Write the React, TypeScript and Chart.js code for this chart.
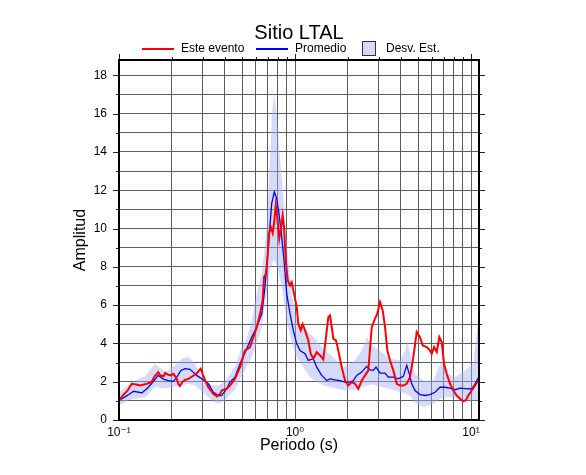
import React, { useEffect, useRef } from 'react';
import { Chart, registerables } from 'chart.js';

Chart.register(...registerables);

const FONT = "'Liberation Sans', Arial, Helvetica, 'DejaVu Sans', sans-serif";

// Este evento (red)
const redPeriods = [0.100, 0.105, 0.112, 0.118, 0.125, 0.132, 0.144, 0.153, 0.160, 0.164, 0.167, 0.172, 0.179, 0.183, 0.187, 0.195, 0.204, 0.213, 0.217, 0.222, 0.229, 0.237, 0.248, 0.259, 0.276, 0.291, 0.300, 0.308, 0.322, 0.343, 0.360, 0.375, 0.383, 0.409, 0.427, 0.456, 0.487, 0.520, 0.555, 0.580, 0.606, 0.633, 0.655, 0.667, 0.684, 0.696, 0.712, 0.728, 0.747, 0.760, 0.777, 0.793, 0.814, 0.840, 0.851, 0.866, 0.886, 0.909, 0.937, 0.958, 0.987, 1.023, 1.044, 1.078, 1.106, 1.140, 1.190, 1.228, 1.271, 1.328, 1.387, 1.448, 1.500, 1.546, 1.581, 1.617, 1.651, 1.710, 1.762, 1.842, 1.924, 2.008, 2.100, 2.192, 2.289, 2.393, 2.499, 2.609, 2.728, 2.848, 2.935, 3.041, 3.150, 3.247, 3.346, 3.466, 3.619, 3.783, 3.950, 4.124, 4.312, 4.502, 4.701, 4.915, 5.131, 5.317, 5.602, 5.848, 5.980, 6.163, 6.385, 6.606, 6.817, 7.026, 7.278, 7.599, 7.935, 8.293, 8.660, 9.042, 9.365, 9.652, 10.09, 10.54, 11.0];
const redAmps = [1.02, 1.27, 1.54, 1.89, 1.85, 1.80, 1.89, 1.98, 2.30, 2.41, 2.50, 2.32, 2.28, 2.46, 2.39, 2.33, 2.41, 2.15, 1.89, 1.78, 1.98, 2.09, 2.15, 2.26, 2.43, 2.68, 2.35, 2.09, 1.71, 1.37, 1.23, 1.35, 1.54, 1.63, 1.80, 2.15, 2.76, 3.63, 3.80, 4.33, 4.85, 5.55, 6.25, 7.46, 7.64, 8.34, 9.73, 10.08, 9.76, 10.25, 11.21, 10.6, 9.47, 10.25, 10.69, 10.08, 8.34, 7.29, 7.03, 7.2, 6.6, 5.90, 5.03, 4.68, 5.0, 4.68, 4.16, 3.46, 3.20, 3.54, 3.37, 3.16, 4.33, 5.37, 5.46, 4.85, 4.24, 4.16, 3.63, 2.76, 2.06, 1.80, 1.98, 1.89, 1.63, 2.06, 2.33, 2.59, 4.85, 5.29, 5.55, 6.16, 5.72, 4.85, 3.63, 3.11, 2.59, 1.89, 1.80, 1.80, 1.89, 2.24, 3.28, 4.59, 4.33, 3.89, 3.81, 3.63, 3.46, 3.81, 3.55, 4.33, 4.07, 2.94, 2.41, 1.89, 1.54, 1.28, 1.11, 0.98, 1.04, 1.28, 1.54, 1.80, 2.06];

// Promedio (blue)
const bluePeriods = [0.100, 0.111, 0.121, 0.135, 0.144, 0.153, 0.167, 0.179, 0.191, 0.204, 0.213, 0.225, 0.237, 0.253, 0.264, 0.276, 0.295, 0.322, 0.343, 0.367, 0.383, 0.409, 0.427, 0.456, 0.487, 0.532, 0.568, 0.606, 0.647, 0.675, 0.705, 0.737, 0.763, 0.787, 0.811, 0.840, 0.866, 0.897, 0.937, 0.978, 1.023, 1.068, 1.140, 1.190, 1.271, 1.328, 1.418, 1.514, 1.581, 1.688, 1.802, 1.924, 2.054, 2.144, 2.242, 2.393, 2.555, 2.668, 2.786, 2.886, 3.041, 3.247, 3.390, 3.619, 3.863, 4.124, 4.312, 4.461, 4.604, 4.807, 5.131, 5.478, 5.848, 6.245, 6.667, 7.118, 7.599, 8.111, 8.660, 9.244, 10.09, 10.54, 11.0];
const blueAmps = [1.02, 1.27, 1.50, 1.42, 1.63, 1.89, 2.33, 2.13, 2.06, 2.02, 2.24, 2.59, 2.68, 2.65, 2.50, 2.33, 2.15, 1.89, 1.46, 1.27, 1.27, 1.63, 1.98, 2.24, 2.94, 3.72, 4.33, 4.85, 5.55, 6.94, 9.03, 11.3, 11.91, 11.56, 10.78, 9.56, 8.34, 6.6, 5.55, 4.68, 3.98, 3.63, 3.46, 3.11, 3.20, 2.76, 2.33, 2.06, 2.15, 2.10, 2.06, 1.98, 1.98, 2.06, 2.33, 2.50, 2.80, 2.62, 2.59, 2.76, 2.45, 2.45, 2.24, 2.24, 2.15, 2.28, 2.85, 2.41, 1.89, 1.54, 1.33, 1.28, 1.33, 1.45, 1.71, 1.71, 1.66, 1.58, 1.66, 1.64, 1.62, 1.89, 2.20];

// Desv. Est. (band)
const bandPeriods = [0.100, 0.112, 0.123, 0.141, 0.160, 0.183, 0.200, 0.227, 0.248, 0.270, 0.291, 0.322, 0.343, 0.367, 0.400, 0.456, 0.498, 0.532, 0.568, 0.606, 0.647, 0.690, 0.721, 0.743, 0.760, 0.787, 0.822, 0.851, 0.878, 0.916, 0.958, 1.023, 1.115, 1.217, 1.328, 1.448, 1.651, 1.881, 2.144, 2.393, 2.555, 2.728, 3.041, 3.466, 3.950, 4.217, 4.346, 4.544, 4.807, 5.358, 6.107, 6.817, 7.278, 8.111, 9.244, 10.31, 10.86, 11.1];
const bandUpper = [1.45, 1.80, 2.06, 2.30, 2.94, 2.50, 2.70, 3.20, 3.30, 2.94, 2.40, 1.95, 1.80, 1.80, 2.00, 2.80, 3.80, 4.30, 5.20, 6.60, 7.64, 10.08, 13.6, 16.2, 17.05, 16.0, 13.6, 12.2, 10.08, 8.34, 6.6, 5.2, 4.85, 4.50, 4.16, 3.72, 3.28, 2.76, 3.02, 3.63, 4.33, 3.90, 3.63, 3.20, 3.11, 3.63, 4.16, 3.28, 2.41, 2.06, 2.06, 3.11, 2.41, 2.24, 2.59, 2.94, 4.85, 5.0];
const bandLower = [0.76, 1.00, 1.11, 1.19, 1.71, 1.65, 1.72, 1.82, 1.89, 1.80, 1.55, 1.19, 0.95, 0.85, 1.02, 1.60, 2.30, 2.80, 3.30, 3.98, 4.85, 6.60, 7.81, 8.20, 8.34, 8.10, 7.40, 6.70, 5.72, 4.80, 4.00, 3.28, 2.76, 2.24, 1.98, 1.82, 1.68, 1.56, 1.58, 1.70, 1.80, 1.87, 1.75, 1.63, 1.45, 1.38, 1.33, 1.25, 0.90, 0.67, 0.85, 1.15, 1.19, 1.15, 1.02, 1.02, 1.02, 1.0];

// Axis ticks
const xTickValues = [0.1, 0.2, 0.3, 0.4, 0.5, 0.6, 0.7, 0.8, 0.9, 1, 2, 3, 4, 5, 6, 7, 8, 9, 10];
const xTickLabels: Record<string, string> = { '0.1': '10\u207B\u00B9', '1': '10\u2070', '10': '10\u00B9' };
const yTickLabels = [0, 2, 4, 6, 8, 10, 12, 14, 16, 18];

const X_MIN = 0.1;
const X_MAX = 11.1;
const Y_MIN = 0;
const Y_MAX = 18.8;

const BAND_FILL = 'rgba(165,172,242,0.45)';
const BAND_SWATCH = 'rgb(214,216,250)';
const GRID = '#5c5c5c';

const toXY = (xs: number[], ys: number[]) => xs.map((x, i) => ({ x, y: ys[i] }));

const framePlugin = {
  id: 'frameAndLegend',
  afterDatasetsDraw(chart: any) {
    const { ctx, chartArea: a, scales } = chart;
    const xs = scales.x;
    const ys = scales.y;
    ctx.save();
    ctx.strokeStyle = '#222';
    ctx.lineWidth = 1;
    const seg = (x1: number, y1: number, x2: number, y2: number) => {
      ctx.beginPath();
      ctx.moveTo(x1, y1);
      ctx.lineTo(x2, y2);
      ctx.stroke();
    };
    for (let v = 0; v <= 18; v++) {
      const py = Math.round(ys.getPixelForValue(v)) + 0.5;
      const len = v % 2 === 0 ? 6 : 3;
      seg(a.left - len, py, a.left, py);
      seg(a.right, py, a.right + len, py);
    }
    for (const v of xTickValues) {
      const px = Math.round(xs.getPixelForValue(v)) + 0.5;
      const dec = Math.abs(Math.log10(v) - Math.round(Math.log10(v))) < 1e-9;
      const len = dec ? 6 : 3;
      seg(px, a.top - len, px, a.top);
    }
    ctx.strokeStyle = '#000';
    ctx.lineWidth = 2;
    ctx.strokeRect(a.left, a.top, a.right - a.left, a.bottom - a.top);

    // legend
    const ly = 49;
    ctx.font = `12px ${FONT}`;
    ctx.textBaseline = 'middle';
    ctx.textAlign = 'left';
    ctx.fillStyle = '#000';
    ctx.lineWidth = 2;
    ctx.strokeStyle = '#ff0000';
    seg(142, ly, 174, ly);
    ctx.fillText('Este evento', 181, ly);
    ctx.strokeStyle = '#0000ff';
    seg(256, ly, 288, ly);
    ctx.fillText('Promedio', 295, ly);
    ctx.fillStyle = BAND_SWATCH;
    ctx.fillRect(363, 42, 12, 13);
    ctx.strokeStyle = '#333';
    ctx.lineWidth = 1;
    ctx.strokeRect(362.5, 41.5, 13, 14);
    ctx.fillStyle = '#000';
    ctx.fillText('Desv. Est.', 386, ly);
    ctx.restore();
  },
};

export default function App() {
  const ref = useRef<HTMLCanvasElement | null>(null);
  useEffect(() => {
    if (!ref.current) return;
    const chart = new Chart(ref.current, {
      type: 'line',
      data: {
        datasets: [
          {
            label: 'Este evento',
            data: toXY(redPeriods, redAmps),
            borderColor: '#ff0000',
            borderWidth: 2,
            pointRadius: 0,
            tension: 0,
            fill: false,
          },
          {
            label: 'Promedio',
            data: toXY(bluePeriods, blueAmps),
            borderColor: '#0000ff',
            borderWidth: 1.3,
            pointRadius: 0,
            tension: 0,
            fill: false,
          },
          {
            label: 'Desv. Est.',
            data: toXY(bandPeriods, bandUpper),
            borderWidth: 0,
            borderColor: 'rgba(0,0,0,0)',
            backgroundColor: BAND_FILL,
            pointRadius: 0,
            tension: 0,
            fill: '+1',
          },
          {
            label: 'Desv. Est. inf',
            data: toXY(bandPeriods, bandLower),
            borderWidth: 0,
            borderColor: 'rgba(0,0,0,0)',
            pointRadius: 0,
            tension: 0,
            fill: false,
          },
        ],
      },
      options: {
        animation: false,
        responsive: false,
        devicePixelRatio: 1,
        layout: { padding: { left: 0, right: 107, top: 0, bottom: 0 } },
        font: { family: FONT },
        plugins: {
          legend: { display: false },
          tooltip: { enabled: false },
          title: {
            display: true,
            text: 'Sitio LTAL',
            fullSize: false,
            color: '#000',
            font: { family: FONT, size: 20, weight: 'normal', lineHeight: '24px' },
            padding: { top: 21, bottom: 15 },
          },
        },
        scales: {
          x: {
            type: 'logarithmic',
            min: X_MIN,
            max: X_MAX,
            afterBuildTicks: (scale: any) => {
              scale.ticks = xTickValues.map((v) => ({ value: v, major: false }));
            },
            afterFit: (scale: any) => {
              scale.height = 55;
            },
            grid: { color: GRID, lineWidth: 1, drawTicks: false },
            border: { display: false },
            ticks: {
              autoSkip: false,
              maxRotation: 0,
              padding: 5,
              color: '#000',
              font: { family: FONT, size: 12 },
              callback: (v: any) => xTickLabels[String(Number(v))] ?? '',
            },
            title: {
              display: true,
              text: 'Periodo (s)',
              color: '#000',
              font: { family: FONT, size: 16 },
              padding: { top: 0, bottom: 20 },
            },
          },
          y: {
            type: 'linear',
            min: Y_MIN,
            max: Y_MAX,
            afterBuildTicks: (scale: any) => {
              const t = [];
              for (let v = 0; v <= 18; v++) t.push({ value: v });
              scale.ticks = t;
            },
            afterFit: (scale: any) => {
              scale.width = 119;
            },
            grid: { color: GRID, lineWidth: 1, drawTicks: false },
            border: { display: false },
            ticks: {
              autoSkip: false,
              padding: 12,
              color: '#000',
              font: { family: FONT, size: 12 },
              callback: (v: any) => (yTickLabels.includes(Number(v)) ? String(v) : ''),
            },
            title: {
              display: true,
              text: 'Amplitud',
              color: '#000',
              font: { family: FONT, size: 16 },
              padding: { top: 71, bottom: 0 },
            },
          },
        },
      },
      plugins: [framePlugin],
    });
    return () => chart.destroy();
  }, []);

  return (
    <div style={{ position: 'fixed', left: 0, top: 0, width: 586, height: 475, background: '#fff' }}>
      <canvas ref={ref} width={586} height={475} style={{ width: 586, height: 475 }} />
    </div>
  );
}
